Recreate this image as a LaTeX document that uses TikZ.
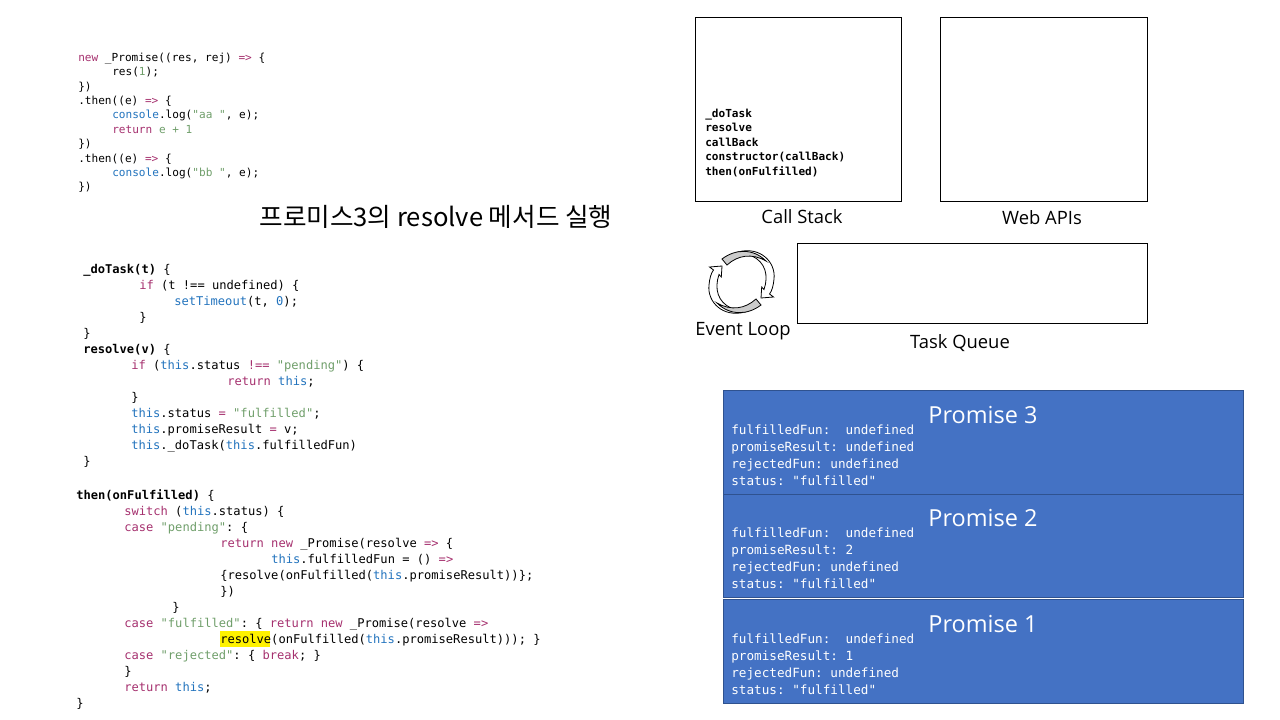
\documentclass[tikz,border=0pt]{standalone}
\usepackage{fontspec}
\setmainfont{Open Sans}
\setmonofont{DejaVu Sans Mono}
\newfontfamily\korfont{Noto Sans CJK KR}
\usetikzlibrary{positioning}
\definecolor{kwdcol}{HTML}{A5306E}
\definecolor{thiscol}{HTML}{2273BD}
\definecolor{strcol}{HTML}{6F9E6A}
\definecolor{boxblue}{HTML}{4472C4}
\definecolor{boxline}{HTML}{2F528F}
\newcommand{\kwd}[1]{\textcolor{kwdcol}{#1}}
\newcommand{\thiskw}[1]{\textcolor{thiscol}{#1}}
\newcommand{\strg}[1]{\textcolor{strcol}{#1}}
\tikzset{
  codeblock/.style 2 args={inner sep=0pt, anchor=north west, align=left, font=\ttfamily\fontsize{#1}{#2}\selectfont},
  panel/.style={draw, line width=0.75pt, fill=white, inner sep=0pt, outer sep=0pt},
  caption/.style={font=\fontsize{13.8}{17}\selectfont},
  promisebox/.style={draw=boxline, line width=0.75pt, fill=boxblue, inner sep=0pt, outer sep=0pt, minimum width=390.4pt},
  promisetitle/.style={text=white, font=\fontsize{17.6}{20}\selectfont},
  promisetext/.style={text=white, inner sep=0pt, anchor=north west, align=left, font=\ttfamily\fontsize{9.5}{12.75}\selectfont},
  looparc/.style={draw, line width=0.6pt},
}
\begin{document}
\begin{tikzpicture}[x=0.75pt, y=-0.75pt]
  \useasboundingbox (0,0) rectangle (1280,720);
  % code on the left
  \node (first) [codeblock={8.32}{10.8}] at (78,52.6) {%
    \kwd{new} \_Promise((res, rej) \kwd{=>} \{\\
    \hspace*{25.5pt}res(\strg{1});\\
    \})\\
    .then((e) \kwd{=>} \{\\
    \hspace*{25.5pt}\thiskw{console}.log(\strg{"aa "}, e);\\
    \hspace*{25.5pt}\kwd{return} \strg{e + 1}\\
    \})\\
    .then((e) \kwd{=>} \{\\
    \hspace*{25.5pt}\thiskw{console}.log(\strg{"bb "}, e);\\
    \})};
  \node (title) [font=\korfont\fontsize{19.2}{22}\selectfont] at (436,217) {프로미스3의 resolve 메서드 실행};
  \node (dotask) [codeblock={9.07}{12}] at (83,264.5) {%
    \textbf{\_doTask(t)} \{\\
    \hspace*{42pt}\kwd{if} (t !== undefined) \{\\
    \hspace*{68.25pt}\thiskw{setTimeout}(t, \thiskw{0});\\
    \hspace*{42pt}\}\\
    \}\\
    \textbf{resolve(v)} \{\\
    \hspace*{36pt}\kwd{if} (\thiskw{this}.status \kwd{!==} \strg{"pending"}) \{\\
    \hspace*{108pt}\kwd{return} \thiskw{this};\\
    \hspace*{36pt}\}\\
    \hspace*{36pt}\thiskw{this}.status \kwd{=} \strg{"fulfilled"};\\
    \hspace*{36pt}\thiskw{this}.promiseResult \kwd{=} v;\\
    \hspace*{36pt}\thiskw{this}.\_doTask(\thiskw{this}.fulfilledFun)\\
    \}};
  \fill[yellow] (220,631) rectangle (270,647);
  \node (thenfun) [codeblock={9.07}{12}] at (76,489.5) {%
    \textbf{then(onFulfilled)} \{\\
    \hspace*{36pt}\kwd{switch} (\thiskw{this}.status) \{\\
    \hspace*{36pt}\kwd{case} \strg{"pending"}: \{\\
    \hspace*{108pt}\kwd{return} \kwd{new} \_Promise(resolve \kwd{=>} \{\\
    \hspace*{146.25pt}\thiskw{this}.fulfilledFun = () \kwd{=>}\\
    \hspace*{108pt}\{resolve(onFulfilled(\thiskw{this}.promiseResult))\};\\
    \hspace*{108pt}\})\\
    \hspace*{72pt}\}\\
    \hspace*{36pt}\kwd{case} \strg{"fulfilled"}: \{ \kwd{return} \kwd{new} \_Promise(resolve \kwd{=>}\\
    \hspace*{108pt}resolve(onFulfilled(\thiskw{this}.promiseResult))); \}\\
    \hspace*{36pt}\kwd{case} \strg{"rejected"}: \{ \kwd{break}; \}\\
    \hspace*{36pt}\}\\
    \hspace*{36pt}\kwd{return} \thiskw{this};\\
    \}};
  % top right boxes
  \node (stack) [panel, minimum width=155pt, minimum height=138.6pt] at (798.5,109.5) {};
  \node (apis) [panel, minimum width=155.4pt, minimum height=138.6pt, right=28.9pt of stack] {};
  \node (queue) [panel, minimum width=263pt, minimum height=60.4pt] at (972.5,283.5) {};
  \node (frames) [codeblock={8.3}{10.9}, font=\ttfamily\bfseries\fontsize{8.3}{10.9}\selectfont] at (705,108.5) {%
    \_doTask\\
    resolve\\
    callBack\\
    constructor(callBack)\\
    then(onFulfilled)};
  \node (stacklabel) [caption] at (802,217) {Call Stack};
  \node (apislabel) [caption] at (1042,218) {Web APIs};
  \node (looplabel) [caption] at (743,331) {Event Loop};
  \node (queuelabel) [caption] at (960,343) {Task Queue};
  % event loop arrows
  \foreach \ang in {0,180} {
    \begin{scope}[rotate around={\ang:(741.5,282)}]
      \draw[looparc, fill=white] (738,252) .. controls (760,246) and (776,262) .. (774,279)
        .. controls (773.5,285) and (772,291) .. (769.5,294) -- (773.5,297) -- (761,298) -- (761.7,287) -- (764,289.5)
        .. controls (769,275) and (765,262) .. (752,256) -- cycle;
      \draw[looparc, fill=black!20] (722,259) .. controls (735,249) and (753,248) .. (766,261)
        .. controls (752,253) and (738,255) .. (727,265) -- cycle;
    \end{scope}
  }
  % promise stack
  \node (promthree) [promisebox, minimum height=78pt] at (983.5,442) {};
  \node (promtwo) [promisebox, minimum height=77.6pt, below=0pt of promthree] {};
  \node (promone) [promisebox, minimum height=78pt, below=1.5pt of promtwo] {};
  \node (promthreetitle) [promisetitle] at (983,415) {Promise 3};
  \node (promtwotitle) [promisetitle] at (983,518) {Promise 2};
  \node (promonetitle) [promisetitle] at (983,624) {Promise 1};
  \node (promthreetext) [promisetext] at (731,425) {%
    fulfilledFun:\ \ undefined\\
    promiseResult: undefined\\
    rejectedFun: undefined\\
    status: "fulfilled"};
  \node (promtwotext) [promisetext] at (731,528) {%
    fulfilledFun:\ \ undefined\\
    promiseResult: 2\\
    rejectedFun: undefined\\
    status: "fulfilled"};
  \node (promonetext) [promisetext] at (731,634) {%
    fulfilledFun:\ \ undefined\\
    promiseResult: 1\\
    rejectedFun: undefined\\
    status: "fulfilled"};
\end{tikzpicture}
\end{document}
